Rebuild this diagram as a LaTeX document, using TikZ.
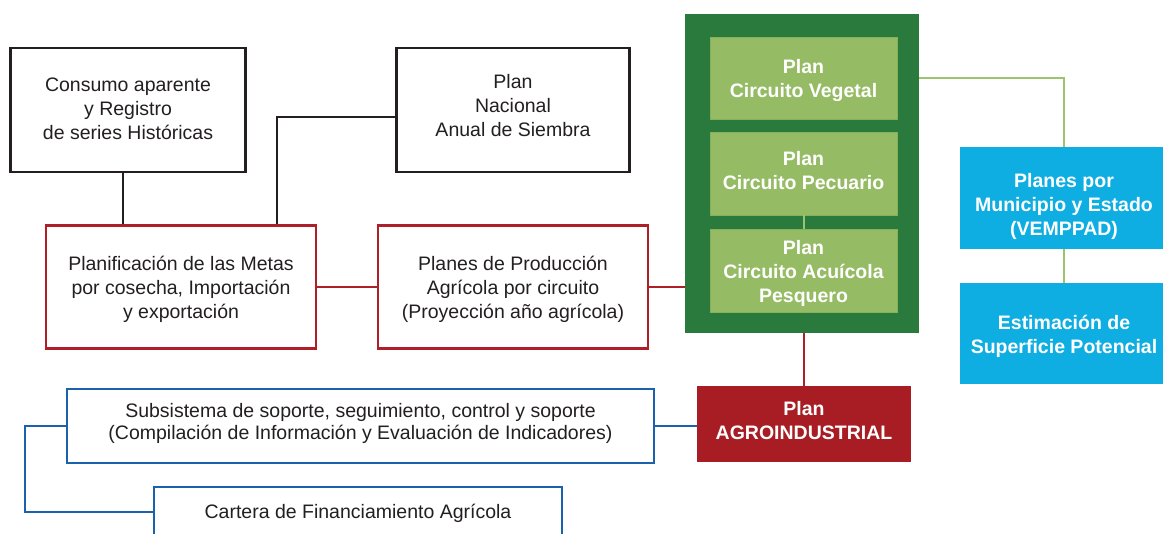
\documentclass[tikz,border=0pt]{standalone}
\usepackage{fontspec}
\setmainfont{Liberation Sans}
\definecolor{ink}{HTML}{231F20}
\definecolor{redline}{HTML}{AE1F28}
\definecolor{redfill}{HTML}{A81D23}
\definecolor{darkgreen}{HTML}{2A7A3D}
\definecolor{lightgreen}{HTML}{95BB64}
\definecolor{greenedge}{HTML}{86B05A}
\definecolor{greenline}{HTML}{9BC46C}
\definecolor{cyanfill}{HTML}{0FAEE2}
\definecolor{blueline}{HTML}{1B62AE}
\begin{document}
\begin{tikzpicture}[x=1pt,y=-1pt,
  every node/.style={align=center, inner sep=0pt},
  sz/.style 2 args={minimum width=#1pt, minimum height=#2pt},
  txt/.style={text=ink, font=\fontsize{19.5}{24}\selectfont},
  wtxt/.style={text=white, font=\fontsize{19.5}{24}\selectfont\bfseries},
  blackbox/.style={draw=ink, line width=2.2pt},
  redbox/.style={draw=redline, line width=2.2pt},
  bluebox/.style={draw=blueline, line width=2.4pt},
  greenouter/.style={fill=darkgreen},
  greeninner/.style={fill=lightgreen, draw=greenedge, line width=0.8pt},
  cyanbox/.style={fill=cyanfill},
  agrobox/.style={fill=redfill},
  blackcon/.style={draw=ink, line width=2.2pt},
  redcon/.style={draw=redline, line width=2.2pt},
  greencon/.style={draw=greenline, line width=2.2pt},
  bluecon/.style={draw=blueline, line width=2.4pt}]
\clip (0,0) rectangle (1163,534);
\fill[white] (0,0) rectangle (1163,534);

% top black boxes
\node[blackbox, sz={235}{124}] (cons) at (128,110) {};
\node[txt] (cons-t) at ([yshift=1.5pt]cons.center) {Consumo aparente\\y Registro\\de series Históricas};
\node[blackbox, sz={233}{124}] (nac) at (513,110) {};
\node[txt] (nac-t) at ([yshift=4pt]nac.center) {Plan\\Nacional\\Anual de Siembra};

% red boxes
\node[redbox, sz={270}{123}] (plan) at (181,287) {};
\node[txt] (plan-t) at ([yshift=-2.5pt]plan.center) {Planificación de las Metas\\por cosecha, Importación\\y exportación};
\node[redbox, sz={270}{123}] (prod) at (513,287) {};
\node[txt] (prod-t) at ([yshift=-2.5pt]prod.center) {Planes de Producción\\Agrícola por circuito\\(Proyección año agrícola)};

% green block
\node[greenouter, sz={234}{319}] (green) at (802,173.5) {};
\node[greeninner, sz={187}{82}] (veg) at (803.5,78) {};
\node[wtxt] (veg-t) at ([yshift=-3pt]veg.center) {Plan\\Circuito Vegetal};
\node[greeninner, sz={187}{83}] (pec) at (803.5,173.5) {};
\node[wtxt] (pec-t) at ([yshift=3pt]pec.center) {Plan\\Circuito Pecuario};
\node[greeninner, sz={187}{83}] (acu) at (803.5,270.5) {};
\node[wtxt] (acu-t) at ([yshift=-2.5pt]acu.center) {Plan\\Circuito Acuícola\\Pesquero};

% agroindustrial
\node[agrobox, sz={214}{76}] (agro) at (804,424) {};
\node[wtxt] (agro-t) at ([yshift=3pt]agro.center) {Plan\\AGROINDUSTRIAL};

% cyan boxes
\node[cyanbox, sz={208}{102}] (mun) at (1064,198) {};
\node[wtxt] (mun-t) at ([yshift=-8pt]mun.center) {Planes por\\Municipio y Estado\\(VEMPPAD)};
\node[cyanbox, sz={208}{101}] (est) at (1064,333.5) {};
\node[wtxt] (est-t) at ([yshift=-3pt]est.center) {Estimación de\\Superficie Potencial};

% blue boxes
\node[bluebox, sz={587}{74}] (sub) at (360.5,426) {};
\node[txt, font=\fontsize{19.5}{22}\selectfont] (sub-t) at ([yshift=3pt]sub.center) {Subsistema de soporte, seguimiento, control y soporte\\(Compilación de Información y Evaluación de Indicadores)};
\node[bluebox, sz={408}{50}] (cart) at (358,512) {};
\node[txt] (cart-t) at ([yshift=-1.5pt]cart.center) {Cartera de Financiamiento Agrícola};

% connectors
\coordinate (c1) at (123,0);
\draw[blackcon] (cons.south -| c1) -- (plan.north -| c1);
\coordinate (j1) at (277,117);
\draw[blackcon] (nac.west |- j1) -- (j1) -- (j1 |- plan.north);
\draw[redcon] (plan.east) -- (prod.west);
\draw[redcon] (prod.east) -- (prod.east -| green.west);
\draw[redcon] (agro.north |- green.south) -- (agro.north);
\draw[greencon, line width=2pt] (pec.south) -- (acu.north);
\draw[greencon] (veg.east -| green.east) -| (mun.north);
\draw[greencon] (mun.south) -- (est.north);
\draw[bluecon] (sub.east) -- (sub.east -| agro.west);
\coordinate (k1) at (25,0);
\draw[bluecon] (sub.west) -| (k1 |- cart.west) -- (cart.west);
\end{tikzpicture}
\end{document}
